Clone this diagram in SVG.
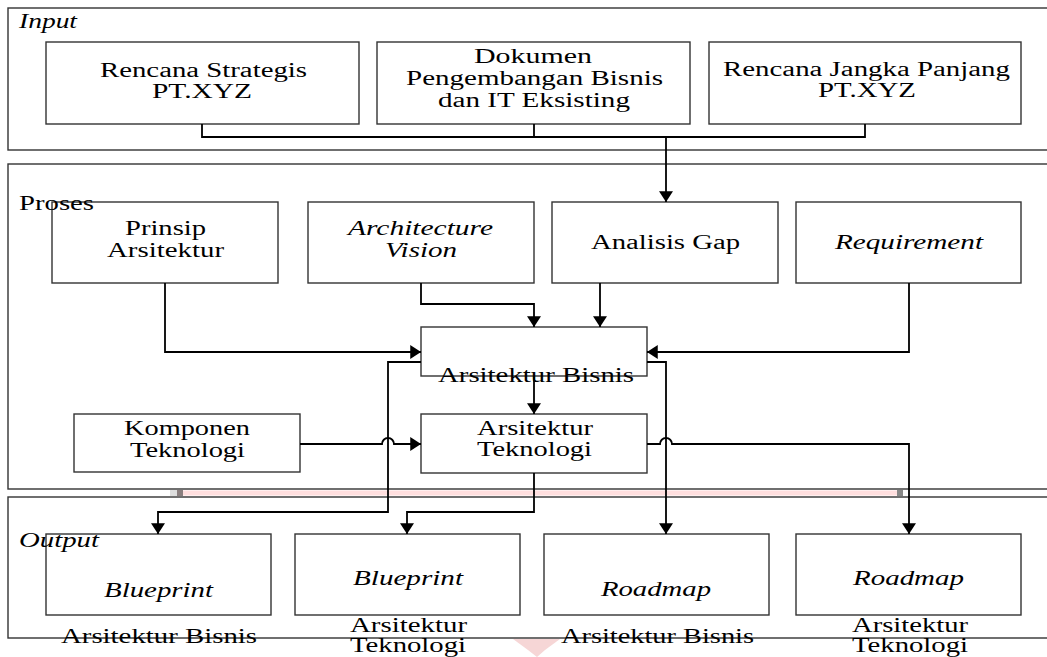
<svg xmlns="http://www.w3.org/2000/svg" width="1047" height="657" viewBox="0 0 1047 657">
<style>
.frame{fill:none;stroke:#333;stroke-width:1.4}
.box{fill:#fff;stroke:#333;stroke-width:1.4}
.conn{fill:none;stroke:#000;stroke-width:1.8}
text{font-family:"Liberation Serif","Times New Roman",serif;font-size:20px;fill:#000}
.it{font-style:italic}
</style>
<defs>
<marker id="arr" viewBox="0 0 10 13" refX="10" refY="6.5" markerWidth="11" markerHeight="14" markerUnits="userSpaceOnUse" orient="auto">
<path d="M0,0 L10,6.5 L0,13 z" fill="#000"/>
</marker>
</defs>
<rect width="1047" height="657" fill="#fff"/>
<g id="frames">
<rect class="frame" x="8" y="8" width="1045" height="142"/>
<rect class="frame" x="8" y="164" width="1045" height="325"/>
<rect class="frame" x="8" y="497" width="1045" height="141"/>
<rect x="170" y="490" width="7" height="6" fill="#ddd"/>
<rect x="177" y="490" width="6" height="6" fill="#8a7f7f"/>
<rect x="183" y="490.5" width="714" height="5" fill="#ffdede"/>
<rect x="897" y="490" width="6" height="6" fill="#888"/>
<polygon points="513,639 560,639 545,650 537,657 528,650" fill="#f6d6d6"/>
</g>
<g id="in1"><rect class="box" x="46" y="42" width="313" height="82"/>
<text x="100" y="77" textLength="207" lengthAdjust="spacingAndGlyphs">Rencana Strategis</text>
<text x="152" y="98" textLength="100" lengthAdjust="spacingAndGlyphs">PT.XYZ</text></g>
<g id="in2"><rect class="box" x="377" y="42" width="313" height="82"/>
<text x="474" y="63" textLength="118" lengthAdjust="spacingAndGlyphs">Dokumen</text>
<text x="406" y="85" textLength="257" lengthAdjust="spacingAndGlyphs">Pengembangan Bisnis</text>
<text x="438" y="107" textLength="192" lengthAdjust="spacingAndGlyphs">dan IT Eksisting</text></g>
<g id="in3"><rect class="box" x="709" y="42" width="312" height="82"/>
<text x="723" y="76" textLength="287" lengthAdjust="spacingAndGlyphs">Rencana Jangka Panjang</text>
<text x="818" y="97" textLength="98" lengthAdjust="spacingAndGlyphs">PT.XYZ</text></g>
<g id="prinsip"><rect class="box" x="52" y="202" width="226" height="81"/>
<text x="125" y="235" textLength="81" lengthAdjust="spacingAndGlyphs">Prinsip</text>
<text x="107" y="257" textLength="117" lengthAdjust="spacingAndGlyphs">Arsitektur</text></g>
<g id="vision"><rect class="box" x="308" y="202" width="226" height="81"/>
<text class="it" x="348" y="235" textLength="145" lengthAdjust="spacingAndGlyphs">Architecture</text>
<text class="it" x="385" y="257" textLength="72" lengthAdjust="spacingAndGlyphs">Vision</text></g>
<g id="gap"><rect class="box" x="552" y="202" width="226" height="81"/>
<text x="591" y="249" textLength="149" lengthAdjust="spacingAndGlyphs">Analisis Gap</text></g>
<g id="req"><rect class="box" x="796" y="202" width="225" height="81"/>
<text class="it" x="835" y="249" textLength="148" lengthAdjust="spacingAndGlyphs">Requirement</text></g>
<g id="bisnis"><rect class="box" x="421" y="327" width="226" height="49"/>
<text x="438" y="382" textLength="196" lengthAdjust="spacingAndGlyphs">Arsitektur Bisnis</text></g>
<g id="teknologi"><rect class="box" x="421" y="414" width="226" height="59"/>
<text x="477" y="435" textLength="116" lengthAdjust="spacingAndGlyphs">Arsitektur</text>
<text x="477" y="456" textLength="115" lengthAdjust="spacingAndGlyphs">Teknologi</text></g>
<g id="komponen"><rect class="box" x="74" y="414" width="226" height="58"/>
<text x="124" y="435" textLength="126" lengthAdjust="spacingAndGlyphs">Komponen</text>
<text x="130" y="457" textLength="115" lengthAdjust="spacingAndGlyphs">Teknologi</text></g>
<g id="out1"><rect class="box" x="46" y="534" width="225" height="81"/>
<text class="it" x="104" y="597" textLength="109" lengthAdjust="spacingAndGlyphs">Blueprint</text>
<text x="61" y="643" textLength="196" lengthAdjust="spacingAndGlyphs">Arsitektur Bisnis</text></g>
<g id="out2"><rect class="box" x="295" y="534" width="225" height="81"/>
<text class="it" x="353" y="585" textLength="110" lengthAdjust="spacingAndGlyphs">Blueprint</text>
<text x="350" y="632" textLength="117" lengthAdjust="spacingAndGlyphs">Arsitektur</text>
<text x="350" y="652" textLength="116" lengthAdjust="spacingAndGlyphs">Teknologi</text></g>
<g id="out3"><rect class="box" x="544" y="534" width="225" height="81"/>
<text class="it" x="601" y="596" textLength="110" lengthAdjust="spacingAndGlyphs">Roadmap</text>
<text x="561" y="643" textLength="193" lengthAdjust="spacingAndGlyphs">Arsitektur Bisnis</text></g>
<g id="out4"><rect class="box" x="796" y="534" width="225" height="81"/>
<text class="it" x="853" y="585" textLength="111" lengthAdjust="spacingAndGlyphs">Roadmap</text>
<text x="852" y="632" textLength="116" lengthAdjust="spacingAndGlyphs">Arsitektur</text>
<text x="852" y="652" textLength="116" lengthAdjust="spacingAndGlyphs">Teknologi</text></g>
<g id="labels">
<text class="it" x="19" y="28" textLength="58" lengthAdjust="spacingAndGlyphs">Input</text>
<text x="19" y="210" textLength="75" lengthAdjust="spacingAndGlyphs">Proses</text>
<text class="it" x="19" y="547" textLength="80" lengthAdjust="spacingAndGlyphs">Output</text>
</g>
<g id="connectors">
<path class="conn" d="M202,124 V137 H865 V124 M534,124 V137"/>
<path class="conn" d="M666,137 V202" marker-end="url(#arr)"/>
<path class="conn" d="M165,283 V352 H421" marker-end="url(#arr)"/>
<path class="conn" d="M421,283 V304 H534 V327" marker-end="url(#arr)"/>
<path class="conn" d="M600,283 V327" marker-end="url(#arr)"/>
<path class="conn" d="M909,283 V352 H647" marker-end="url(#arr)"/>
<path class="conn" d="M534,376 V414" marker-end="url(#arr)"/>
<path class="conn" d="M300,444 H382 A6,6 0 0 1 394,444 H421" marker-end="url(#arr)"/>
<path class="conn" d="M421,362 H388 V512 H158 V534" marker-end="url(#arr)"/>
<path class="conn" d="M647,362 H666 V534" marker-end="url(#arr)"/>
<path class="conn" d="M647,444 H660 A6,6 0 0 1 672,444 H909 V534" marker-end="url(#arr)"/>
<path class="conn" d="M534,473 V512 H407 V534" marker-end="url(#arr)"/>
</g>
</svg>
